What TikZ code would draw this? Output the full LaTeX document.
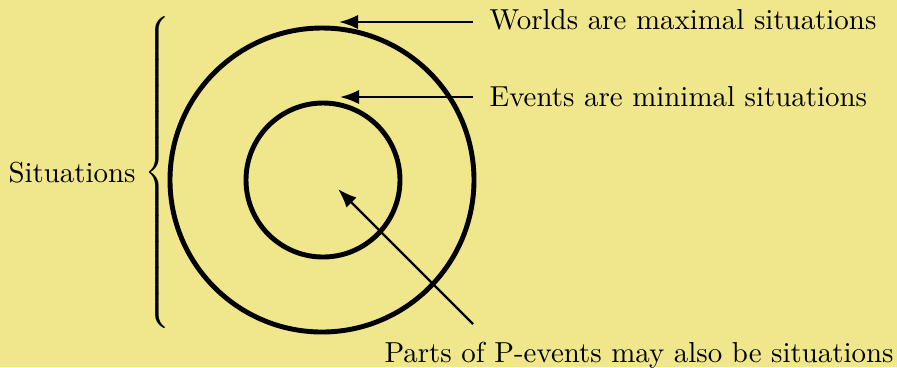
\documentclass[tikz,border=0pt]{standalone}
\usetikzlibrary{arrows.meta}
\definecolor{bgkhaki}{RGB}{240,230,140}
\begin{document}
\begin{tikzpicture}[x=0.346pt,y=-0.346pt,
  ring/.style={line width=1.7pt},
  pointer/.style={thick,-{Latex}},
  lbl/.style={inner sep=0pt,anchor=west}]
\fill[bgkhaki] (0,0) rectangle (897,367);
\useasboundingbox (0,0) rectangle (897,367);
\draw[ring] (322,180) circle[radius=152];
\draw[ring] (323,180) circle[radius=77];
\node[lbl] (sit) at (8,173) {Situations};
\node[inner sep=0pt,anchor=west] (br) at (144,172.5) {$\left\{\vcenter{\hrule height 110pt width 0pt}\right.$};
\node[lbl] (worlds) at (489,20) {Worlds are maximal situations};
\node[lbl] (events) at (489,97) {Events are minimal situations};
\node[inner sep=0pt,anchor=north west] (parts) at (384,342) {Parts of P-events may also be situations};
\coordinate (w0) at (473,22);
\coordinate (w1) at (339,22);
\coordinate (e0) at (473,97);
\coordinate (e1) at (340,97);
\coordinate (p0) at (473,324);
\coordinate (p1) at (338,189);
\draw[pointer] (w0) -- (w1);
\draw[pointer] (e0) -- (e1);
\draw[pointer] (p0) -- (p1);
\end{tikzpicture}
\end{document}
